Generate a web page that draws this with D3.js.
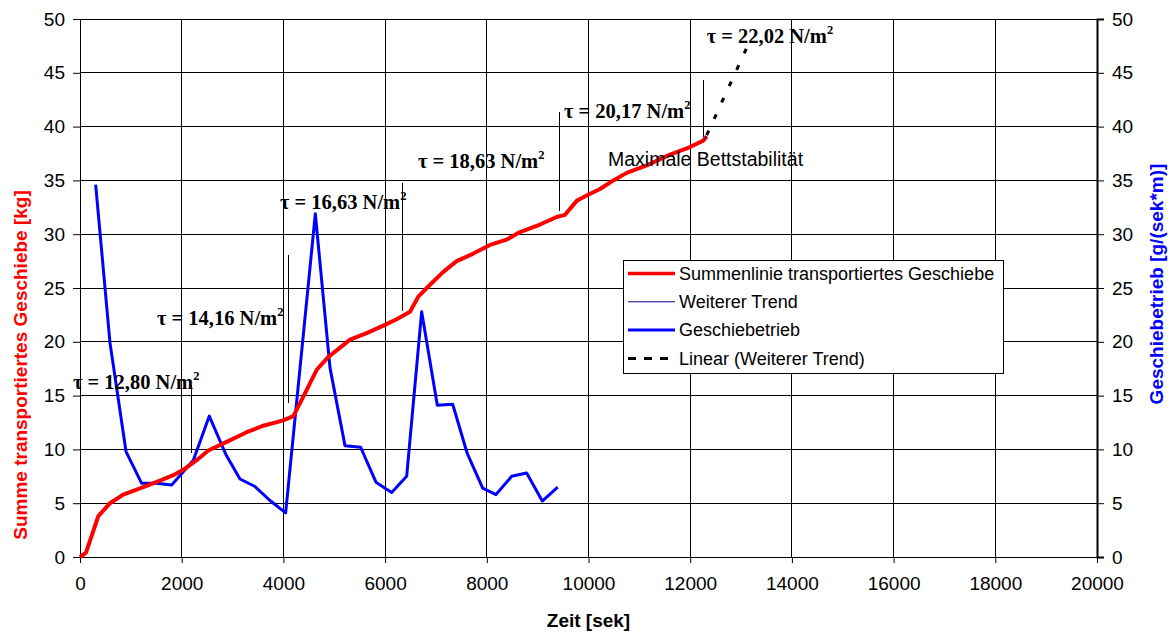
<!DOCTYPE html>
<html>
<head>
<meta charset="utf-8">
<script src="https://cdn.jsdelivr.net/npm/d3@7"></script>
<style>
  body { margin: 0; background: #fff; }
  text { font-family: "Liberation Sans", Arial, sans-serif; }
  text.tau { font-family: "Liberation Serif", "Times New Roman", serif; }
</style>
</head>
<body>
<div id="chart"></div>
<script>
// Summenlinie transportiertes Geschiebe [kg]
let sumX = [0,118,360,590,850,1245,1573,1835,2030,2295,2523,2885,3278,3605,3998,4195,4392,4655,4883,5048,5310,5638,5965,6228,6490,6653,6883,7145,7407,7735,8063,8391,8653,9046,9374,9538,9768,9964,10226,10488,10751,11145,11603,11996,12258,12324];
let sumY = [0,0.4,3.8,5.0,5.8,6.5,7.1,7.6,8.1,9.0,9.9,10.7,11.6,12.2,12.7,13.1,14.9,17.4,18.6,19.2,20.2,20.8,21.5,22.1,22.8,24.2,25.3,26.5,27.5,28.2,29.0,29.5,30.2,30.9,31.6,31.8,33.1,33.6,34.2,35.0,35.7,36.4,37.4,38.1,38.7,39.1];
// Geschiebetrieb [g/(sek*m)]
let rateX = [308,590,905,1213,1508,1803,2229,2543,2871,3146,3441,3736,4044,4628,4916,5211,5519,5820,6129,6424,6719,7027,7329,7617,7919,8181,8489,8784,9091,9394];
let rateY = [34.6,19.9,9.8,6.85,6.85,6.7,9.0,13.1,9.5,7.25,6.55,5.25,4.1,31.9,17.6,10.35,10.2,6.95,6.0,7.5,22.8,14.1,14.2,9.6,6.4,5.8,7.5,7.8,5.2,6.5];
// Weiterer Trend + Linear (Weiterer Trend)
let trendX = [12258,12324];
let trendY = [38.7,39.1];
let linX = [12324,13110];
let linY = [39.2,47.3];
// tau beschriftung
let tauText = ["12,80","14,16","16,63","18,63","20,17","22,02"];
let tauX = [-138,1514,3933,6647,9518,12324];
let tauY = [15.6,21.56,32.3,36.15,40.8,47.8];
// phasengrenzen
let markX = [2183,4110,6352,9420,12252];
let markTop = [16.0,28.07,34.76,41.36,44.33];
let markBottom = [9.67,14.3,22.86,32.16,39.03];

let xTicks = d3.range(0,20001,2000);
let yTicks = d3.range(0,51,5);

let W = 1170, H = 634;
let mLeft = 80, mTop = 19, plotW = 1017, plotH = 538;

let svg = d3.select("#chart").append("svg")
    .attr("width", W)
    .attr("height", H);

let x = d3.scaleLinear().domain([0,20000]).range([mLeft,mLeft+plotW]);
let yL = d3.scaleLinear().domain([0,50]).range([mTop+plotH,mTop]);
let yR = d3.scaleLinear().domain([0,50]).range([mTop+plotH,mTop]);

//gitter
let grid = svg.append("g").attr("shape-rendering","crispEdges");
grid.selectAll(".vg").data(xTicks).enter().append("line")
    .attr("x1",d=>x(d)).attr("x2",d=>x(d))
    .attr("y1",mTop).attr("y2",mTop+plotH)
    .attr("stroke","#000").attr("stroke-width",1);
grid.selectAll(".hg").data(yTicks).enter().append("line")
    .attr("x1",mLeft).attr("x2",mLeft+plotW)
    .attr("y1",d=>yL(d)).attr("y2",d=>yL(d))
    .attr("stroke","#000").attr("stroke-width",1);

//achsen
let xAxis = svg.append("g")
    .attr("transform","translate(0,"+(mTop+plotH)+")")
    .call(d3.axisBottom(x).tickValues(xTicks).tickSize(6).tickPadding(14).tickFormat(d3.format("d")));
let yAxisL = svg.append("g")
    .attr("transform","translate("+mLeft+",0)")
    .call(d3.axisLeft(yL).tickValues(yTicks).tickSize(7).tickPadding(8));
let yAxisR = svg.append("g")
    .attr("transform","translate("+(mLeft+plotW)+",0)")
    .call(d3.axisRight(yR).tickValues(yTicks).tickSize(7).tickPadding(8));
[xAxis,yAxisL,yAxisR].forEach(function(a){
    a.select(".domain").attr("stroke","#000");
    a.selectAll(".tick line").attr("stroke","#000");
    a.selectAll("text").attr("font-size","19px").attr("fill","#000");
});
yAxisR.select(".domain").attr("stroke-width",2);

//achsentitel
svg.append("text")
    .attr("transform","translate(27,365) rotate(-90)")
    .attr("text-anchor","middle")
    .attr("font-size","19px").attr("font-weight","bold").attr("fill","#ff0000")
    .text("Summe transportiertes Geschiebe [kg]");
svg.append("text")
    .attr("transform","translate(1163,284) rotate(-90)")
    .attr("text-anchor","middle")
    .attr("font-size","19px").attr("font-weight","bold").attr("fill","#0000ff")
    .text("Geschiebetrieb [g/(sek*m)]");
svg.append("text")
    .attr("x",x(10000)).attr("y",627)
    .attr("text-anchor","middle")
    .attr("font-size","19px").attr("font-weight","bold").attr("fill","#000")
    .text("Zeit [sek]");

//markierungslinien
svg.append("g").attr("shape-rendering","crispEdges")
    .selectAll("line").data(markX).enter().append("line")
    .attr("x1",d=>x(d)).attr("x2",d=>x(d))
    .attr("y1",(d,i)=>yL(markTop[i])).attr("y2",(d,i)=>yL(markBottom[i]))
    .attr("stroke","#000").attr("stroke-width",1);

let line = d3.line();

//geschiebetrieb
svg.append("path")
    .attr("d",line(rateX.map((d,i)=>[x(d),yR(rateY[i])])))
    .attr("fill","none").attr("stroke","#0000ff").attr("stroke-width",3)
    .attr("stroke-linejoin","round");

//summenlinie
svg.append("path")
    .attr("d",line(sumX.map((d,i)=>[x(d),yL(sumY[i])])))
    .attr("fill","none").attr("stroke","#ff0000").attr("stroke-width",4)
    .attr("stroke-linejoin","round");

//weiterer trend
svg.append("path")
    .attr("d",line(trendX.map((d,i)=>[x(d),yL(trendY[i])])))
    .attr("fill","none").attr("stroke","#000080").attr("stroke-width",1);

//linear (weiterer trend)
svg.append("path")
    .attr("d",line(linX.map((d,i)=>[x(d),yL(linY[i])])))
    .attr("fill","none").attr("stroke","#000").attr("stroke-width",3)
    .attr("stroke-dasharray","5,13");

//tau beschriftung
let tau = svg.selectAll(".tau").data(tauText).enter().append("text")
    .attr("class","tau")
    .attr("x",(d,i)=>x(tauX[i])).attr("y",(d,i)=>yL(tauY[i]))
    .attr("font-size","20.5px").attr("font-weight","bold").attr("fill","#000");
tau.append("tspan").text(d=>"\u03c4 = "+d+" N/m");
tau.append("tspan").attr("font-size","12.5px").attr("dy",-9).text("2");

svg.append("text")
    .attr("x",x(10383)).attr("y",yL(36.34))
    .attr("font-size","19.5px").attr("fill","#000")
    .text("Maximale Bettstabilit\u00e4t");

//legende
let legend = svg.append("g").attr("transform","translate(623,260)");
legend.append("rect")
    .attr("x",0.5).attr("y",0.5).attr("width",380).attr("height",113)
    .attr("fill","#fff").attr("stroke","#000").attr("stroke-width",1);
let legItems = [
    {name:"Summenlinie transportiertes Geschiebe", color:"#ff0000", w:3.5, dash:null},
    {name:"Weiterer Trend", color:"#000080", w:1, dash:null},
    {name:"Geschiebetrieb", color:"#0000ff", w:3, dash:null},
    {name:"Linear (Weiterer Trend)", color:"#000", w:3, dash:"8,8"}
];
legItems.forEach(function(it,i){
    let cy = 13.5+i*28.3;
    legend.append("line")
        .attr("x1",5).attr("x2",52).attr("y1",cy).attr("y2",cy)
        .attr("stroke",it.color).attr("stroke-width",it.w)
        .attr("stroke-dasharray",it.dash);
    legend.append("text")
        .attr("x",56).attr("y",cy).attr("dy","0.35em")
        .attr("font-size","18px").attr("fill","#000")
        .text(it.name);
});
</script>
</body>
</html>
